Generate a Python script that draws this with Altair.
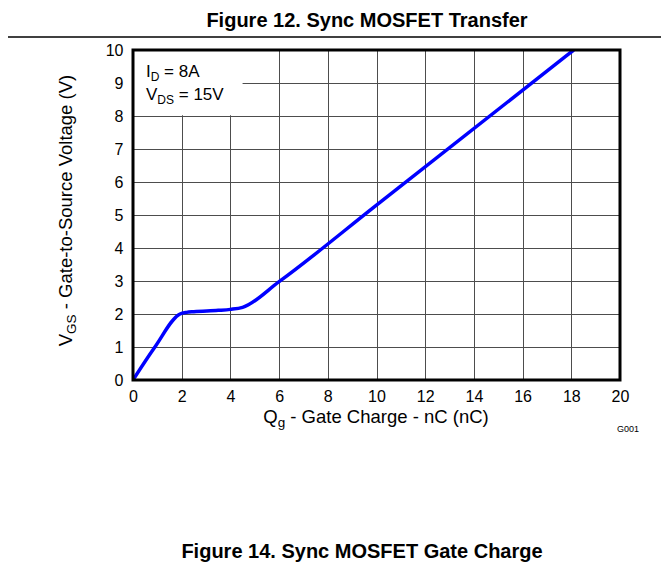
import altair as alt
import pandas as pd

# ---- data ----
qg = [0, 0.9, 1.93, 2.2, 2.5, 3.5, 4.0, 4.5, 6.0, 10.0, 18.1]
vgs = [0, 1.0, 2.0, 2.05, 2.07, 2.11, 2.14, 2.2, 2.98, 5.3, 10.0]
x_ticks = [0, 2, 4, 6, 8, 10, 12, 14, 16, 18, 20]
y_ticks = [0, 1, 2, 3, 4, 5, 6, 7, 8, 9, 10]
legend_x = [0, 4.5]
legend_y = [8.02, 10]

title_top = "Figure 12. Sync MOSFET Transfer"
title_bottom = "Figure 14. Sync MOSFET Gate Charge"

W_PLOT, H_PLOT = 487, 330
FONT = "Liberation Sans"

AW = {' ': 278, '(': 333, ')': 333, '-': 333, '.': 278, '=': 584, 'A': 667, 'C': 722,
      'D': 722, 'G': 778, 'I': 278, 'Q': 778, 'S': 667, 'V': 667, 'a': 556, 'c': 500,
      'e': 556, 'g': 556, 'h': 556, 'l': 222, 'n': 556, 'o': 556, 'r': 333, 's': 500,
      't': 278, 'u': 556}


def tw(s, fs):
    return sum(AW.get(c, 556) for c in s) * fs / 1000.0


def piece(text, x, y, size, bold=False, angle=0, align="left", baseline="alphabetic"):
    return alt.Chart(alt.Data(values=[{}])).mark_text(
        text=text, font=FONT, fontSize=size, fontWeight="bold" if bold else "normal",
        angle=angle, align=align, baseline=baseline, color="black"
    ).encode(x=alt.value(x), y=alt.value(y))


xs = alt.Scale(domain=[0, 20], nice=False)
ys = alt.Scale(domain=[0, 10], nice=False)
x_axis = alt.Axis(values=x_ticks, title=None, labelPadding=8, labelFlush=False, labelOverlap=False)
y_axis = alt.Axis(values=y_ticks, title=None, labelPadding=10, labelFlush=False, labelOverlap=False)

curve = alt.Chart(pd.DataFrame({"qg": qg, "vgs": vgs})).mark_line(
    color="#0000FF", strokeWidth=3.5, interpolate="monotone", clip=True
).encode(
    x=alt.X("qg:Q", scale=xs, axis=x_axis),
    y=alt.Y("vgs:Q", scale=ys, axis=y_axis),
)

box = alt.Chart(pd.DataFrame({"x1": [legend_x[0]], "x2": [legend_x[1]],
                              "y1": [legend_y[0]], "y2": [legend_y[1]]})).mark_rect(
    color="white"
).encode(x=alt.X("x1:Q", scale=xs, axis=x_axis), x2="x2:Q",
         y=alt.Y("y1:Q", scale=ys, axis=y_axis), y2="y2:Q")

frame = alt.Chart(alt.Data(values=[{}])).mark_rect(
    fill="transparent", stroke="black", strokeWidth=3
).encode(x=alt.value(0), x2=alt.value(W_PLOT), y=alt.value(0), y2=alt.value(H_PLOT))

top_rule = alt.Chart(alt.Data(values=[{}])).mark_rule(color="black", strokeWidth=1.5).encode(
    x=alt.value(-133), x2=alt.value(540), y=alt.value(-13))

layers = [box, curve, frame, top_rule]

# titles
layers.append(piece(title_top, 234, -23, 20, bold=True, align="center"))
layers.append(piece(title_bottom, 229, 508, 20, bold=True, align="center"))

# x axis title with subscript
S, SS = 18.5, 13.5
rest_x = "- Gate Charge - nC (nC)"
tot = tw("Q", S) + tw("g", SS) + tw(" ", S) + tw(rest_x, S)
x0 = 243 - tot / 2
layers.append(piece("Q", x0, 373, S))
layers.append(piece("g", x0 + tw("Q", S), 377, SS))
layers.append(piece(rest_x, x0 + tw("Q", S) + tw("g", SS) + tw(" ", S), 373, S))

# y axis title (rotated) with subscript
rest_y = "- Gate-to-Source Voltage (V)"
tot = tw("V", S) + tw("GS", SS) + tw(" ", S) + tw(rest_y, S)
y0 = 160 + tot / 2
bx = -61
layers.append(piece("V", bx, y0, S, angle=270))
layers.append(piece("GS", bx + 4, y0 - tw("V", S), SS, angle=270))
layers.append(piece(rest_y, bx, y0 - tw("V", S) - tw("GS", SS) - tw(" ", S), S, angle=270))

# legend text
LS, LSS = 17, 12
lx = 13
layers.append(piece("I", lx, 27, LS))
layers.append(piece("D", lx + tw("I", LS), 31, LSS))
layers.append(piece("= 8A", lx + tw("I", LS) + tw("D", LSS) + tw(" ", LS), 27, LS))
layers.append(piece("V", lx, 50, LS))
layers.append(piece("DS", lx + tw("V", LS), 54, LSS))
layers.append(piece("= 15V", lx + tw("V", LS) + tw("DS", LSS) + tw(" ", LS), 50, LS))

# figure id
layers.append(piece("G001", 495, 382, 9, align="center"))

chart = alt.layer(*layers).properties(
    width=W_PLOT, height=H_PLOT,
    padding={"left": 125, "top": 42, "right": 41, "bottom": 183},
    autosize=alt.AutoSizeParams(type="none"),
).configure_view(stroke=None).configure_axis(
    labelFont=FONT, labelFontSize=16, labelColor="black", labelFontWeight="normal",
    grid=True, gridColor="#4d4d4d", gridWidth=1,
    domain=False, ticks=False, tickSize=0,
)

chart.save("out.html", embed_options={"renderer": "svg", "actions": False})
